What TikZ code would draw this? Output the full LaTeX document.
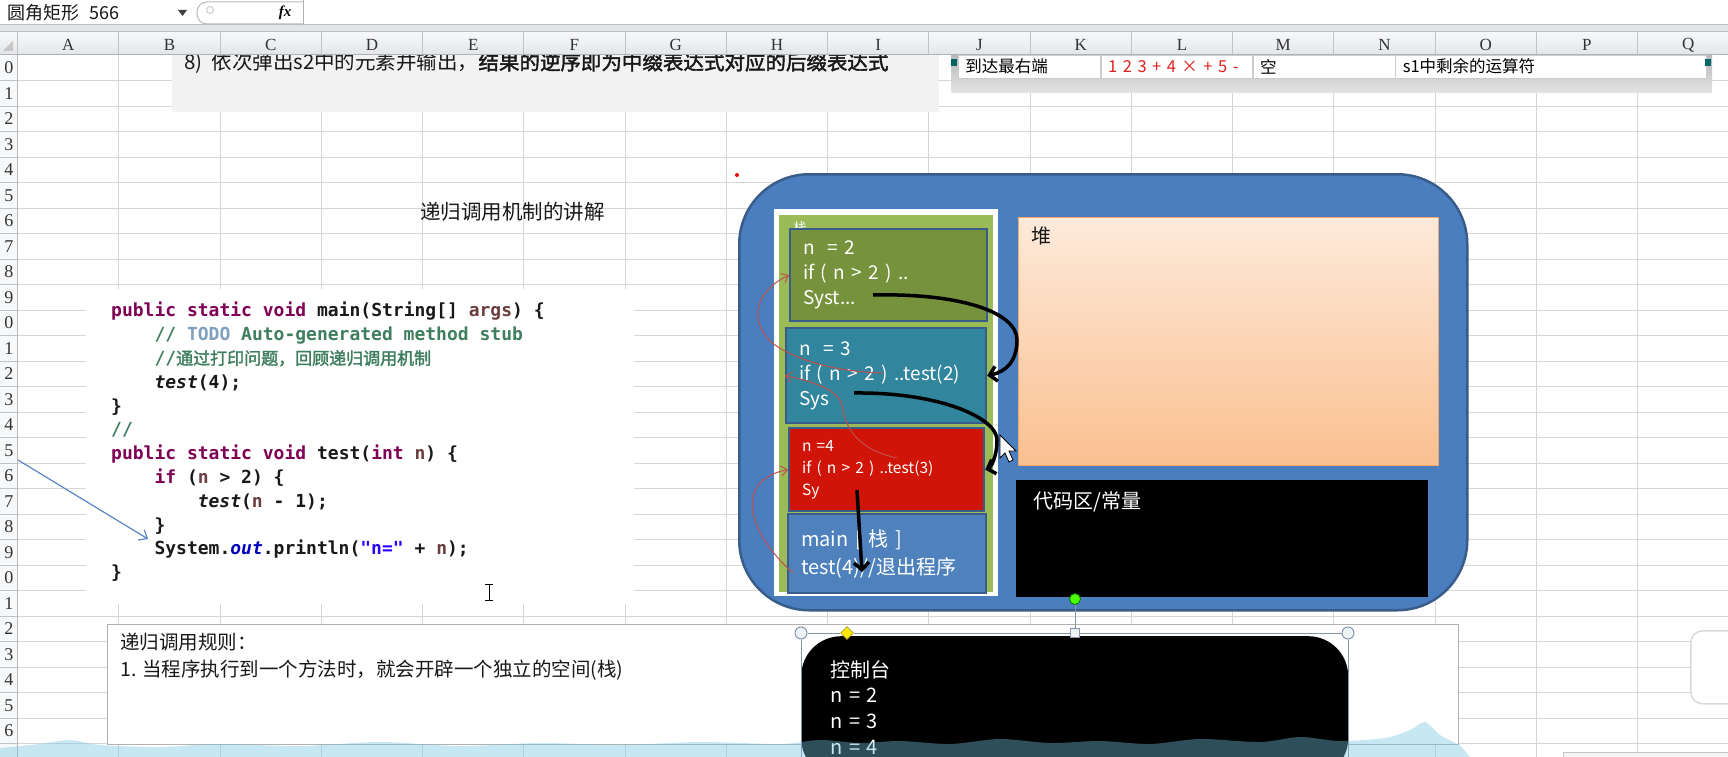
\documentclass[tikz,border=0pt]{standalone}
\usepackage{fontspec}
\setmainfont{Noto Sans CJK SC}[AutoFakeBold=2]
\newfontfamily\codefont{DejaVu Sans Mono}
\newfontfamily\cjk{Noto Sans CJK SC}[AutoFakeBold=2]
\newfontfamily\xlsfont{Liberation Serif}
\usetikzlibrary{arrows.meta,positioning,shapes.geometric}
\definecolor{gridline}{HTML}{D6D6D6}
\definecolor{hdrtop}{HTML}{F7F8F9}
\definecolor{hdrbot}{HTML}{E2E5E9}
\definecolor{hdrline}{HTML}{BFC4CA}
\definecolor{notegray}{HTML}{F2F2F2}
\definecolor{memblue}{HTML}{4A7EBF}
\definecolor{membd}{HTML}{385D8A}
\definecolor{stackgreen}{HTML}{9BBB59}
\definecolor{ftwo}{HTML}{76923C}
\definecolor{fthree}{HTML}{31859C}
\definecolor{ffour}{HTML}{D01508}
\definecolor{fmain}{HTML}{4F81BD}
\definecolor{heaptop}{HTML}{FDEADA}
\definecolor{heapbot}{HTML}{FAC090}
\definecolor{heapbd}{HTML}{F3A86A}
\definecolor{retred}{HTML}{C0504D}
\definecolor{kwcol}{HTML}{7F0055}
\definecolor{cmcol}{HTML}{3F7F5F}
\definecolor{todocol}{HTML}{7F9FBF}
\definecolor{fldcol}{HTML}{0000C0}
\definecolor{strcol}{HTML}{2A00FF}
\definecolor{varcol}{HTML}{6A3E3E}
\definecolor{arrowblue}{HTML}{5B85C4}
\definecolor{wavecol}{RGB}{117,197,225}
\definecolor{tblred}{HTML}{E0201C}
\definecolor{handlebd}{HTML}{8494A6}
\definecolor{handlefill}{HTML}{EEF3F8}
\newcommand{\jkw}[1]{\textcolor{kwcol}{#1}}
\newcommand{\jcm}[1]{\textcolor{cmcol}{#1}}
\newcommand{\jtodo}[1]{\textcolor{todocol}{#1}}
\newcommand{\jfld}[1]{\textcolor{fldcol}{\itshape #1}}
\newcommand{\jstr}[1]{\textcolor{strcol}{#1}}
\newcommand{\jvar}[1]{\textcolor{varcol}{#1}}
\newcommand{\jind}{\hspace*{43.3pt}}

\begin{document}
\begin{tikzpicture}[x=1pt, y=-1pt,
    gridln/.style={draw=gridline, line width=1.1pt},
    hdrln/.style={draw=hdrline, line width=0.8pt},
    colhd/.style={font=\xlsfont\fontsize{17}{17}\selectfont, text=black!80, inner sep=0pt},
    rowhd/.style={font=\xlsfont\fontsize{18}{18}\selectfont, text=black!80, inner sep=0pt, anchor=east},
    txt/.style={inner sep=0pt, anchor=west, text=black!90},
    notebox/.style={fill=notegray, anchor=north west, minimum width=767pt, minimum height=57pt, inner sep=0pt},
    cell/.style={draw=gray!40, line width=0.8pt, fill=white, minimum height=23pt, inner xsep=7pt,
                 inner ysep=0pt, align=left, font=\fontsize{16.5}{16.5}\selectfont},
    memory/.style={fill=memblue, draw=membd, line width=2.5pt, rounded corners=70pt, anchor=north west, inner sep=0pt},
    frm/.style={draw=membd, line width=2.2pt, anchor=north west, inner xsep=13pt, inner ysep=0pt,
                text=white, align=left, font=\fontsize{19}{25}\selectfont},
    blk/.style={fill=black, anchor=north west, inner sep=0pt},
    call/.style={-{Straight Barb[length=7pt,width=15pt]}, line width=3.5pt, black},
    ret/.style={-{Straight Barb[length=6pt,width=10pt]}, line width=1pt, retred},
    selln/.style={draw=handlebd, line width=1pt},
    handle/.style={circle, draw=handlebd, fill=handlefill, line width=1pt, minimum size=12pt, inner sep=0pt}
  ]
  \fill[white] (0,0) rectangle (1728,757);
  \useasboundingbox (0,0) rectangle (1728,757);

  % sheet grid
  \foreach \c in {0,...,17}
    \draw[gridln] ({17.6+101.25*\c},55) -- ({17.6+101.25*\c},757);
  \foreach \r in {0,...,27}
    \draw[gridln] (17.6,{80.6+25.5*\r}) -- (1728,{80.6+25.5*\r});

  % text boxes at the top
  \node[notebox] (note) at (172,55) {};
  \node[txt, font=\fontsize{20.5}{20.5}\selectfont] (notetxt) at (184,63)
    {8)\hspace{9pt}依次弹出s2中的元素并输出，{\bfseries 结果的逆序即为中缀表达式对应的后缀表达式}};

  \node[anchor=north west, minimum width=761pt, minimum height=37pt, inner sep=0pt,
        top color=gray!55, bottom color=gray!22] (tblbar) at (951,55) {};
  \node[cell, text width=128pt, anchor=west] (cella) at (958,66.5) {到达最右端};
  \node[cell, text width=137pt, right=0pt of cella, text=tblred] (cellb) {1 2 3 + 4 × + 5 -};
  \node[cell, text width=128pt, right=0pt of cellb] (cellc) {空};
  \node[cell, text width=297pt, right=0pt of cellc] (celld) {s1中剩余的运算符};
  \fill[teal!80!black] (951,59) rectangle (957,66);
  \fill[teal!80!black] (1705,59) rectangle (1711,66);

  \node[txt, font=\fontsize{20.5}{20.5}\selectfont] (title) at (420,212) {递归调用机制的讲解};

  % java code
  \node[fill=white, anchor=north west, minimum width=548pt, minimum height=315pt, inner sep=0pt] (codebg) at (86,289) {};
  \node[txt, align=left, font=\codefont\bfseries\fontsize{18}{23.8}\selectfont] (code) at (111,442) {%
    \jkw{public static void} main(String[] \jvar{args}) \{\\
    \jind\jcm{//\ }\jtodo{TODO}\jcm{\ Auto-generated method stub}\\
    \jind\jcm{//{\cjk\fontsize{17}{23.8}\selectfont 通过打印问题，回顾递归调用机制}}\\
    \jind{\itshape test}(4);\\
    \}\\
    \jcm{//}\\
    \jkw{public static void} test(\jkw{int} \jvar{n}) \{\\
    \jind\jkw{if} (\jvar{n} > 2) \{\\
    \jind\jind{\itshape test}(\jvar{n} - 1);\\
    \jind\}\\
    \jind System.\jfld{out}.println(\jstr{"n="} + \jvar{n});\\
    \}};
  \coordinate (arrtail) at (18,460);
  \coordinate (sysline) at (148,539);
  \draw[-{Straight Barb[length=7pt,width=12pt]}, line width=1.2pt, arrowblue] (arrtail) -- (sysline);
  \draw[line width=1pt] (485,584) -- (493,584) (489,584) -- (489,600) (485,600) -- (493,600);

  % memory model
  \fill[red] (737,175) circle (2pt);
  \node[memory, minimum width=728pt, minimum height=436pt] (mem) at (738,173) {};
  \node[fill=white, anchor=north west, minimum width=224pt, minimum height=387pt, inner sep=0pt] (stackframe) at (774,209) {};
  \node[fill=stackgreen, anchor=north west, minimum width=214pt, minimum height=377pt, inner sep=0pt] (stackpanel) at (779,215) {};
  \node[text=white, font=\fontsize{13}{13}\selectfont, inner sep=0pt] (stacklbl) at (800,228) {栈};

  \node[frm, fill=ftwo, text width=171pt, minimum height=92pt] (f2) at (789,228) {n\ \ = 2\\if ( n > 2 ) ..\\Syst...};
  \node[frm, fill=fthree, text width=174pt, minimum height=95pt] (f3) at (785,327) {n\ \ = 3\\if ( n > 2 ) ..test(2)\\Sys};
  \node[frm, fill=ffour, text width=169pt, minimum height=83pt, font=\fontsize{15.5}{22}\selectfont] (f4) at (788,427) {n\ =4\\if ( n > 2 ) ..test(3)\\Sy};
  \node[frm, fill=fmain, text width=172pt, minimum height=79pt, font=\fontsize{20}{28}\selectfont] (fm) at (787,513) {main [ 栈 ]\\test(4)//退出程序};

  \node[anchor=north west, minimum width=420pt, minimum height=248pt, inner sep=0pt, draw=heapbd, line width=1pt,
        top color=heaptop, bottom color=heapbot] (heap) at (1018,217) {};
  \node[txt, font=\fontsize{20}{20}\selectfont] (heaplbl) at (1031,236) {堆};
  \node[blk, minimum width=412pt, minimum height=117pt] (codearea) at (1016,480) {};
  \node[txt, text=white, font=\fontsize{20}{20}\selectfont] (codelbl) at (1033,502) {代码区/常量};

  % calls
  \coordinate (c2out) at (873,295);
  \coordinate (c3out) at (854,393);
  \coordinate (c4out) at (857,490);
  \coordinate (c4in) at (862,572);
  \draw[call] (c2out) .. controls (960,293) and (1017,312) .. (1017,340) .. controls (1017,362) and (1005,372) .. (f3.east);
  \draw[call] (c3out) .. controls (940,392) and (997,418) .. (997,440) .. controls (997,458) and (990,468) .. (f4.east);
  \draw[call] (c4out) -- (c4in);

  % returns
  \coordinate (r3) at (883,373);
  \coordinate (r4) at (897,458);
  \coordinate (rm) at (793,573);
  \draw[ret] (r3) .. controls (840,372) and (800,362) .. (775,345) .. controls (752,328) and (748,295) .. (f2.west);
  \draw[ret] (r4) .. controls (860,450) and (845,430) .. (842,405) .. controls (838,390) and (815,382) .. (f3.west);
  \draw[ret] (rm) .. controls (745,530) and (735,480) .. (f4.west);

  % mouse pointer
  \draw[fill=white, line width=0.8pt] (1000,435) -- (1000,458) -- (1005,453) -- (1009,462) -- (1013,460) -- (1009,451) -- (1016,451) -- cycle;

  % rules and console
  \node[draw=gray!60, fill=white, line width=1pt, anchor=north west, minimum width=1351pt, minimum height=120pt, inner sep=0pt] (rules) at (107,624) {};
  \node[txt, align=left, font=\fontsize{19.5}{27}\selectfont] (rulestxt) at (120,656.5)
    {递归调用规则：\\1. 当程序执行到一个方法时，就会开辟一个独立的空间(栈)};

  \node[blk, rounded corners=40pt, minimum width=547pt, minimum height=142pt, text=white, align=left,
        text width=489pt, inner xsep=29pt, font=\fontsize{20}{25.7}\selectfont] (console) at (801,636)
    {控制台\\n = 2\\n = 3\\n = 4};

  \node[handle] (hl) at (801,633) {};
  \node[handle] (hr) at (1348,633) {};
  \node[draw=handlebd, fill=handlefill, line width=1pt, minimum size=9pt, inner sep=0pt] (hs) at (1075,633) {};
  \node[diamond, draw=yellow!60!black, fill=yellow!90!orange, line width=0.6pt, minimum size=13pt, inner sep=0pt] (hd) at (847,633) {};
  \node[circle, draw=green!45!black, fill=green!60!lime, line width=0.8pt, minimum size=11pt, inner sep=0pt] (rot) at (1075,599) {};
  \coordinate (selbl) at (801,757);
  \coordinate (selbr) at (1348,757);
  \draw[selln] (hl) -- (hd) -- (hs) -- (hr);
  \draw[selln] (hl) -- (selbl);
  \draw[selln] (hr) -- (selbr);
  \draw[selln] (rot) -- (hs);

  % player overlay
  \node[draw=gray!30, fill=white, line width=1.5pt, rounded corners=12pt, anchor=north west,
        minimum width=60pt, minimum height=73pt, inner sep=0pt] (tv) at (1690,630) {};
  \node[draw=gray!45, fill=gray!8, anchor=north west, minimum width=170pt, minimum height=10pt, inner sep=0pt] (taskbar) at (1563,752) {};

  % excel headers
  \fill[hdrtop] (0,55) rectangle (17.6,757);
  \foreach \r in {0,...,26} {
    \draw[hdrln] (0,{80.6+25.5*\r}) -- (17.6,{80.6+25.5*\r});
    \pgfmathtruncatemacro{\d}{mod(\r,10)}
    \node[rowhd] (row\r) at (13.5,{67.85+25.5*\r}) {\d};
  }
  \draw[draw=gray!55, line width=1pt] (17.6,55) -- (17.6,757);
  \shade[top color=hdrtop, bottom color=hdrbot] (0,32) rectangle (1728,55);
  \foreach \c in {1,...,17}
    \draw[hdrln] ({17.6+101.25*\c},32) -- ({17.6+101.25*\c},55);
  \foreach \l [count=\i from 0] in {A,...,Q}
    \node[colhd] (col\l) at ({68.2+101.25*\i},45) {\l};
  \draw[hdrln] (17.6,32) -- (17.6,55);
  \fill[gray!45] (3,51) -- (13,51) -- (13,41) -- cycle;
  \draw[draw=gray!60, line width=1pt] (0,55) -- (1728,55);

  % formula bar
  \fill[white] (0,0) rectangle (1728,25);
  \fill[hdrbot] (0,25) rectangle (1728,32);
  \draw[draw=gray!50, line width=1pt] (0,25) -- (1728,25) (0,32) -- (1728,32);
  \node[txt, font=\fontsize{18}{18}\selectfont] (namebox) at (7,13) {圆角矩形\hspace{10pt}566};
  \fill[black!75] (178,10) -- (187,10) -- (182.5,16) -- cycle;
  \draw[draw=gray!55, line width=1pt, rounded corners=10pt] (303,2) -- (197,2) -- (197,24) -- (303,24);
  \draw[draw=gray!40, line width=1pt] (210,10) circle (3.5pt);
  \node[font=\xlsfont\bfseries\itshape\fontsize{15}{15}\selectfont, inner sep=0pt] (fx) at (285,13) {fx};
  \draw[draw=gray!60, line width=1pt] (303,0) -- (303,25);

  % sound wave
  \fill[wavecol, opacity=0.4] (0,757) -- plot[smooth] coordinates {(0,748) (40,744) (70,740) (100,745) (160,747)
    (220,744) (300,746) (380,742) (460,746) (540,743) (620,745) (700,742) (780,744) (820,740) (860,743)
    (900,741) (950,744) (1000,739) (1050,743) (1100,741) (1150,744) (1200,739) (1260,742) (1300,737)
    (1340,741) (1385,738) (1410,730) (1425,722) (1440,735) (1460,745)} -- (1470,757) -- cycle;
\end{tikzpicture}
\end{document}
